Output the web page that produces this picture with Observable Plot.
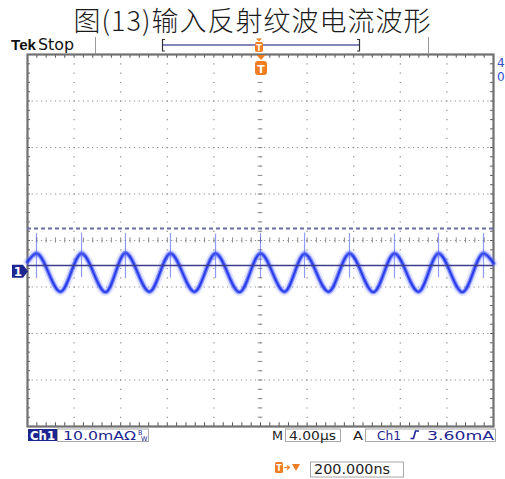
<!DOCTYPE html>
<html><head><meta charset="utf-8">
<script src="https://cdn.jsdelivr.net/npm/d3@7"></script>
<script src="https://cdn.jsdelivr.net/npm/@observablehq/plot@0.6"></script>
<style>
html,body{margin:0;padding:0;background:#fff;}
#wrap{position:relative;width:505px;height:479px;overflow:hidden;background:#fff;}
#title{position:absolute;left:0;top:0;width:505px;height:40px;line-height:40px;text-align:center;font-family:"Noto Sans CJK SC";font-weight:300;font-size:27px;letter-spacing:1px;color:#1a1a1a;white-space:nowrap;}
#chart{position:absolute;left:0;top:34px;}
#overlay{position:absolute;left:0;top:0;pointer-events:none;}
</style></head><body>
<div id="wrap">
  <div id="chart"></div>
  <svg id="overlay" width="505" height="479" xmlns="http://www.w3.org/2000/svg"></svg>
  <div id="title">图(13)输入反射纹波电流波形</div>
</div>
<script>
// ---- data (time in µs relative to trigger, current in mA relative to screen centre) ----
const peakTimes   = [-19.23, -15.36, -11.59, -7.73, -3.86, 0, 3.78, 7.64, 11.50, 15.28, 19.14];
const peakValues  = [-2.8, -2.8, -2.7, -2.8, -2.8, -2.8, -2.9, -2.8, -2.8, -2.8, -2.8];
const troughTimes = [-17.17, -13.30, -9.53, -5.67, -1.80, 2.06, 5.84, 9.70, 13.56, 17.34];
const troughValues= [-11.0, -11.1, -11.0, -11.0, -11.1, -11.0, -11.0, -11.1, -11.0, -11.1];
const edgeTimes   = [-20, 20];
const edgeValues  = [-4.6, -4.9];
const spikeTop    = [1.5, 1.6, 1.5, 1.5, 1.4, 1.5, 1.6, 1.5, 1.4, 1.5, 1.5];
const spikeBottom = [-8.2, -8.0, -8.2, -8.1, -8.2, -8.0, -8.2, -8.1, -8.2, -8.0, -8.2];
const solidLevel  = -5.4;
const dashedLevel = 2.6;
const groundLevel = -6.7;
const triggerTime = 0;
// graticule (4 µs/div, 10 mA/div)
const gridX  = [-16, -12, -8, -4, 0, 4, 8, 12, 16];
const gridY  = [-30, -20, -10, 0, 10, 20, 30];
const minorX = d3.range(-20, 20.01, 0.8);
const minorY = d3.range(-40, 40.01, 2);
// readout labels
const chLabel = "Ch1", scaleLabel = "10.0mAΩ", timeLabel = "4.00µs",
      trigSrc = "Ch1", trigLevel = "3.60mA", delayLabel = "200.000ns";

const trace = [
  ...edgeTimes.map((t, i) => ({t, v: edgeValues[i]})),
  ...peakTimes.map((t, i) => ({t, v: peakValues[i]})),
  ...troughTimes.map((t, i) => ({t, v: troughValues[i]}))
].sort((a, b) => a.t - b.t);
const spikes = peakTimes.map((t, i) => ({t, hi: spikeTop[i], lo: spikeBottom[i]}));

const gridColor = "#8c8c8c";
const plot = Plot.plot({
  width: 505, height: 445,
  marginTop: 20, marginBottom: 53, marginLeft: 27, marginRight: 12,
  x: {domain: [-20, 20], axis: null},
  y: {domain: [-40, 40], axis: null},
  style: {background: "transparent", overflow: "visible"},
  marks: [
    Plot.ruleX(gridX, {stroke: gridColor, strokeWidth: 1.2, strokeDasharray: "1.2,8.1"}),
    Plot.ruleY(gridY, {stroke: gridColor, strokeWidth: 1.1, strokeDasharray: "1.2,3.45"}),
    Plot.ruleY(minorY, {x1: -0.2, x2: 0.2, stroke: gridColor}),
    Plot.ruleX(minorX, {y1: -0.55, y2: 0.55, stroke: gridColor}),
    Plot.ruleX(minorX, {y1: 40, y2: 39.2, stroke: "#555"}),
    Plot.ruleX(minorX, {y1: -40, y2: -39.2, stroke: "#555"}),
    Plot.ruleY(minorY, {x1: -20, x2: -19.75, stroke: "#555"}),
    Plot.ruleY(minorY, {x1: 20, x2: 19.75, stroke: "#555"}),
    Plot.frame({stroke: "#707070", strokeWidth: 2.2}),
    Plot.ruleY([dashedLevel], {stroke: "#6b6ba8", strokeWidth: 2, strokeDasharray: "4,3"}),
    Plot.line(trace, {x: "t", y: "v", curve: "monotone-x", stroke: "#8a96ff", strokeWidth: 8.5, strokeOpacity: 0.22}),
    Plot.line(trace, {x: "t", y: "v", curve: "monotone-x", stroke: "#3648f5", strokeWidth: 4.5, strokeOpacity: 0.55}),
    Plot.line(trace, {x: "t", y: "v", curve: "monotone-x", stroke: "#1a2ee6", strokeWidth: 2, strokeOpacity: 0.85}),
    Plot.ruleX(spikes, {x: "t", y1: "lo", y2: "hi", stroke: "#4658f2", strokeWidth: 1.2, strokeOpacity: 0.6}),
    Plot.dot(spikes, {x: "t", y: d => d.hi - 4.5, r: 3.5, fill: "#5a6aff", fillOpacity: 0.22}),
    Plot.ruleY([solidLevel], {stroke: "#3d3d8c", strokeWidth: 1.5})
  ]
});
document.getElementById("chart").appendChild(plot);

const xs = plot.scale("x"), ys = plot.scale("y");
const top0 = 34;
const px = t => xs.apply(t);
const py = v => ys.apply(v) + top0;
const ov = d3.select("#overlay");
const navy = "#1d2590", orange = "#f07d22";

function txt(x, y, s, o = {}) {
  const e = ov.append("text").attr("x", x).attr("y", y).text(s)
    .attr("font-family", o.font || "DejaVu Sans").attr("font-size", o.size || 12)
    .attr("font-weight", o.weight || "normal").attr("fill", o.fill || "#222");
  if (o.len) e.attr("textLength", o.len).attr("lengthAdjust", "spacingAndGlyphs");
  if (o.anchor) e.attr("text-anchor", o.anchor);
  return e;
}

// top status bar
txt(11, 50, "Tek", {font: "Liberation Sans", weight: "bold", size: 15, len: 25, fill: "#111"});
txt(38, 50, "Stop", {size: 15, len: 36, fill: "#111"});
[95.5, 428.5].forEach(x => ov.append("line").attr("x1", x).attr("x2", x).attr("y1", 37).attr("y2", 54).attr("stroke", "#9a9a9a"));
ov.append("line").attr("x1", 162).attr("x2", 360).attr("y1", 45).attr("y2", 45).attr("stroke", "#5c5ca8").attr("stroke-width", 1.5);
ov.append("path").attr("d", "M165,39.5 H162.5 V51 H165 M357,39.5 H359.5 V51 H357").attr("fill", "none").attr("stroke", "#333").attr("stroke-width", 1.2);
// small trigger icon in record view
ov.append("path").attr("d", "M256,38.5 L262,38.5 L259,41.5 Z").attr("fill", orange);
ov.append("rect").attr("x", 255).attr("y", 42).attr("width", 8).attr("height", 10).attr("rx", 2).attr("fill", orange);
txt(259, 50.5, "T", {size: 8, weight: "bold", fill: "#fff", anchor: "middle"});

// trigger marker below top border
const tx = px(triggerTime) + 1;
ov.append("path").attr("d", `M${tx-4.5},55 L${tx+4.5},55 L${tx},60 Z`).attr("fill", orange);
ov.append("rect").attr("x", tx - 6).attr("y", 61).attr("width", 12).attr("height", 14).attr("rx", 3).attr("fill", orange);
txt(tx, 72.5, "T", {size: 11, weight: "bold", fill: "#fff", anchor: "middle"});

// channel ground marker
const gy = py(groundLevel);
ov.append("path").attr("d", `M12,${gy-6.5} L23,${gy-6.5} L28,${gy} L23,${gy+6.5} L12,${gy+6.5} Z`).attr("fill", navy);
txt(18, gy + 4.5, "1", {size: 12, weight: "bold", fill: "#fff", anchor: "middle"});

// clipped readouts at right edge
txt(497, 67, "4", {size: 12, fill: "#3050c8"});
txt(497, 81, "0", {size: 12, fill: "#3050c8"});

// bottom readout row 1
ov.append("rect").attr("x", 28).attr("y", 429).attr("width", 29).attr("height", 12).attr("fill", navy);
txt(30, 439.5, chLabel, {size: 12, weight: "bold", fill: "#fff", len: 25});
const box = (x, y, w, h) => ov.append("rect").attr("x", x + 0.5).attr("y", y + 0.5).attr("width", w).attr("height", h).attr("fill", "none").attr("stroke", "#a8a8a8");
box(57, 428.5, 91, 12.5);
txt(63, 439.5, scaleLabel, {size: 12.5, fill: navy, len: 73});
txt(138, 434.5, "B", {size: 6.5, fill: navy});
txt(141, 440.5, "W", {size: 6.5, fill: navy});
txt(272, 439.5, "M", {size: 12.5, len: 11});
box(285, 428.5, 55, 12.5);
txt(289, 439.5, timeLabel, {size: 12.5, len: 47});
txt(353, 439.5, "A", {size: 12.5, len: 10});
box(365, 428.5, 130, 12.5);
txt(377, 439.5, trigSrc, {size: 12.5, fill: navy, len: 24});
ov.append("path").attr("d", "M410.5,438.5 H413.5 L415.5,431 H419").attr("fill", "none").attr("stroke", navy).attr("stroke-width", 1.6);
txt(427, 439.5, trigLevel, {size: 12.5, fill: navy, len: 67});

// bottom readout row 2
ov.append("rect").attr("x", 275).attr("y", 462).attr("width", 8).attr("height", 11).attr("rx", 1.5).attr("fill", orange);
txt(279, 471, "T", {size: 8, weight: "bold", fill: "#fff", anchor: "middle"});
ov.append("path").attr("d", "M284,467.5 H289 M287,465.5 L289.5,467.5 L287,469.5").attr("fill", "none").attr("stroke", orange).attr("stroke-width", 1.2);
ov.append("path").attr("d", "M292,464 L300,464 L296,471 Z").attr("fill", orange);
box(310, 461.5, 93, 15);
txt(314, 474, delayLabel, {size: 13.5, len: 76});
</script>
</body></html>
